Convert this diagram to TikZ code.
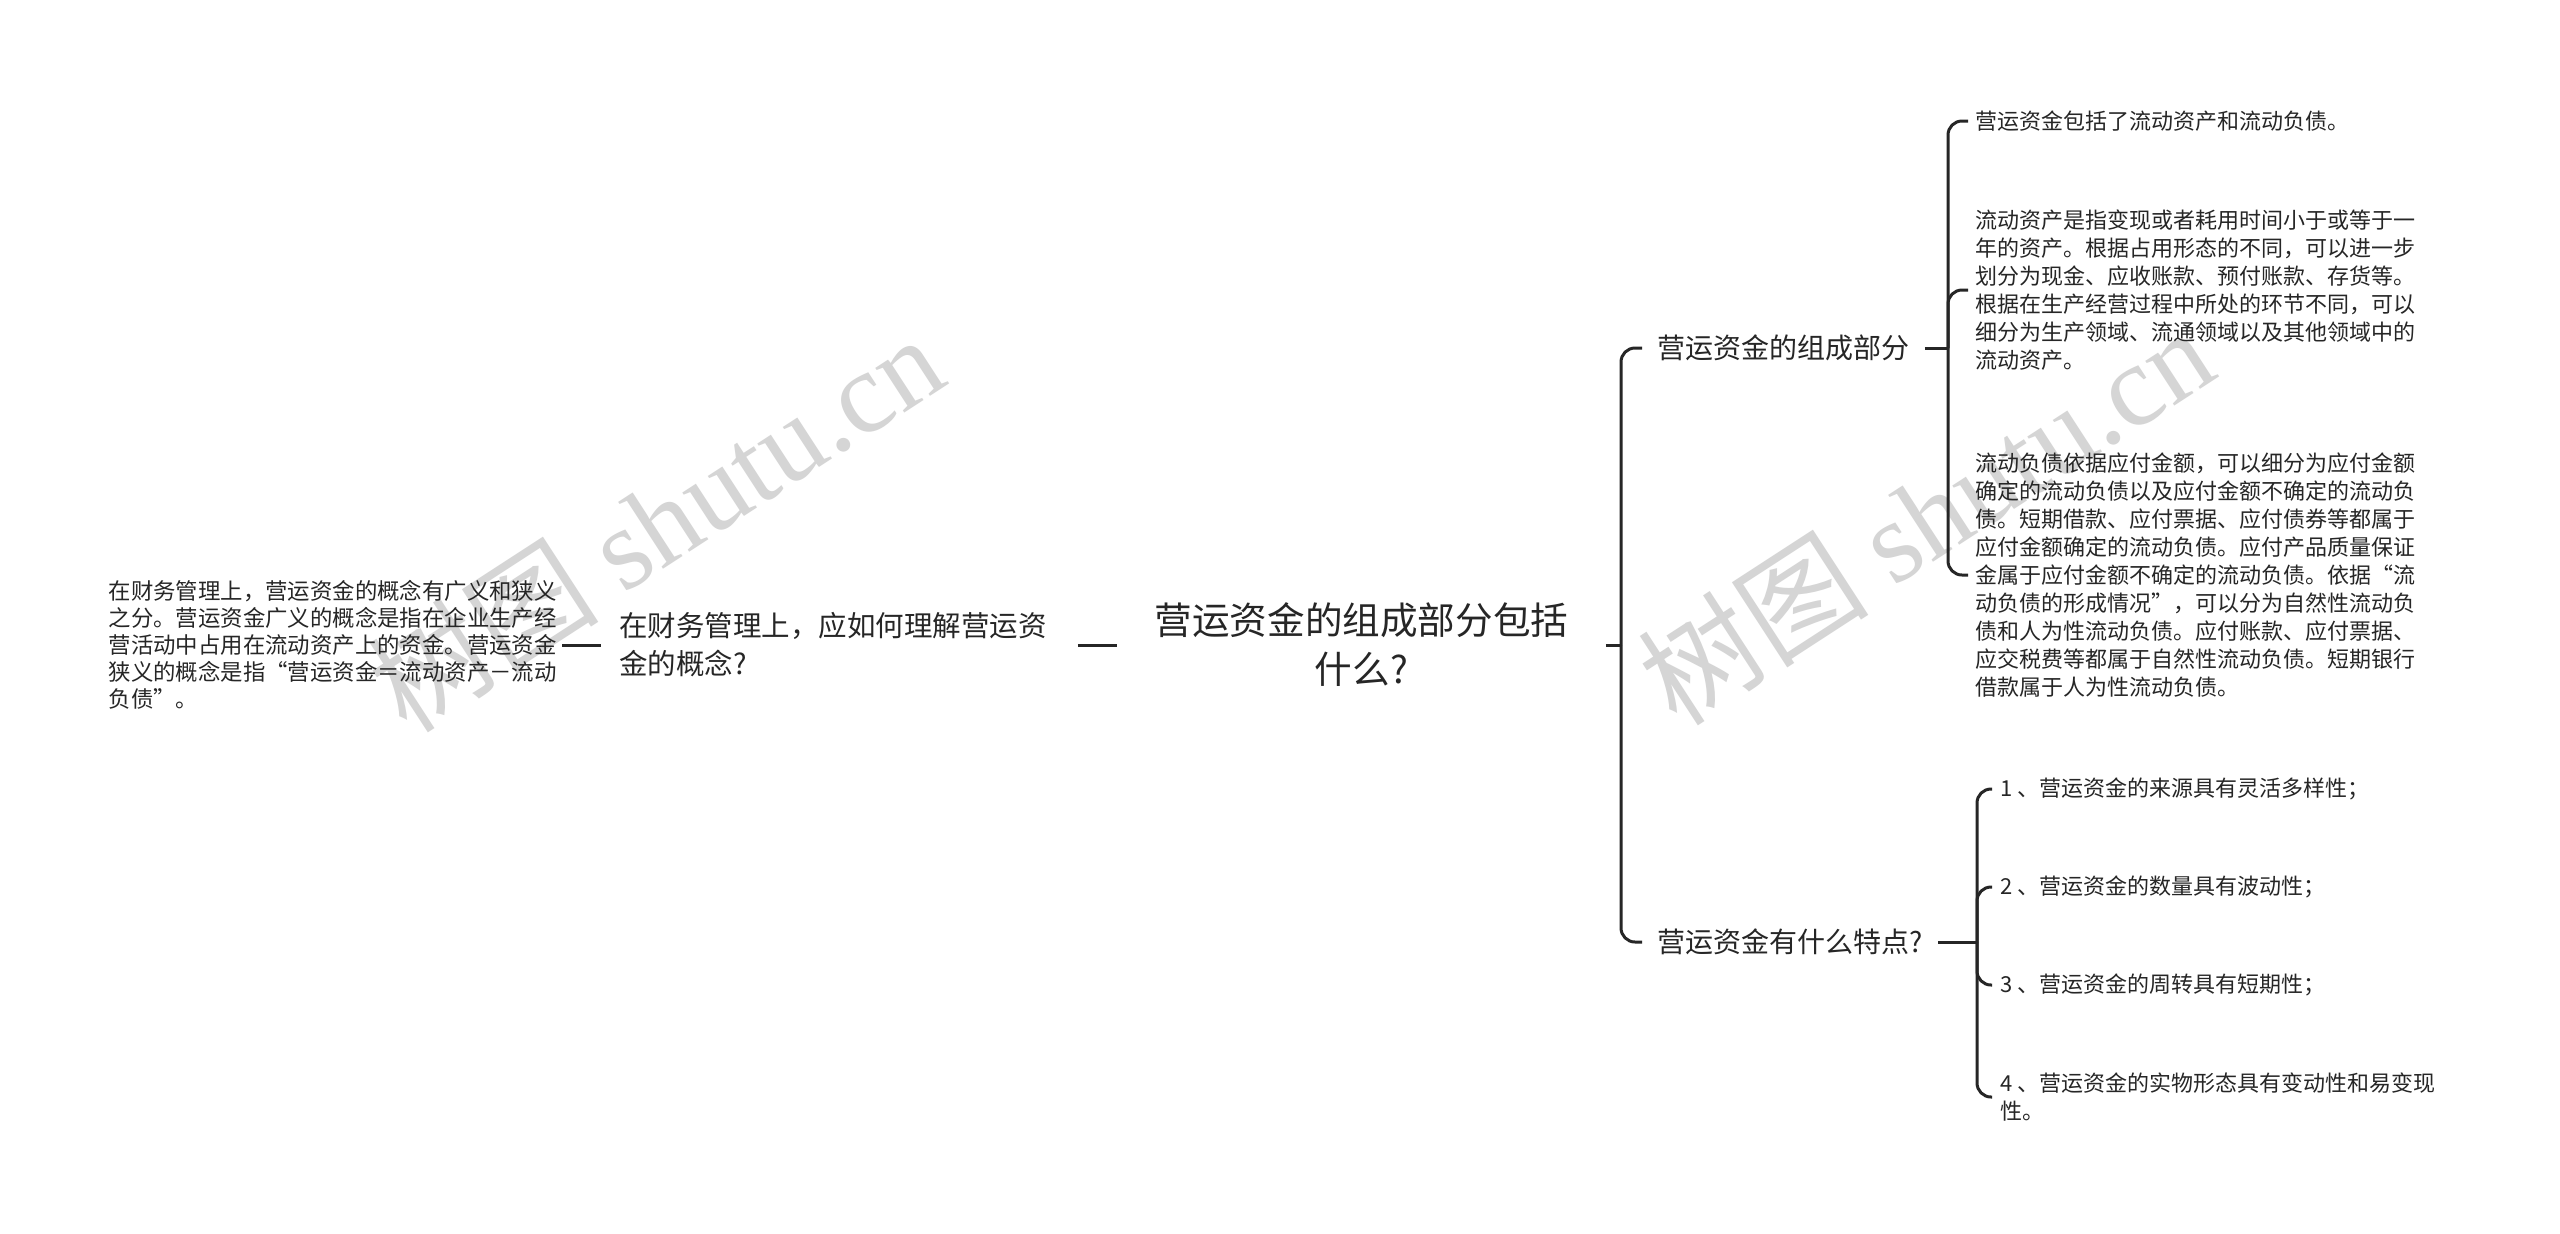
\documentclass[tikz,border=0pt]{standalone}
\usepackage{fontspec}
\setmainfont{Noto Sans CJK SC}
\newfontfamily\wmfont{Liberation Serif}
\usetikzlibrary{positioning}
\definecolor{ink}{HTML}{262626}
\definecolor{wmgray}{HTML}{D5D5D5}
\tikzset{
  link/.style={line width=1.5pt,draw=ink,rounded corners=7pt},
  leaf/.style={anchor=west,inner xsep=3.5pt,inner ysep=0pt,align=left,text=ink,font=\fontsize{11}{14}\selectfont},
  branch/.style={anchor=west,inner xsep=7.5pt,inner ysep=0pt,text=ink,font=\fontsize{14}{18}\selectfont},
  wmark/.style={rotate=33,text=wmgray,font=\fontsize{58}{58}\selectfont}
}
\begin{document}
\begin{tikzpicture}[x=0.5pt,y=-0.5pt,>=latex]
\useasboundingbox (0,0) rectangle (2560,1233);
\fill[white] (0,0) rectangle (2560,1233);
% watermarks
\node[wmark] (wm1) at (655,522) {树图 {\wmfont shutu.cn}};
\node[wmark] (wm2) at (1925,515) {树图 {\wmfont shutu.cn}};
% main chain
\node[leaf,anchor=east,inner xsep=2.5pt,font=\fontsize{11.2}{13.5}\selectfont] (concept) at (562,645)
  {在财务管理上，营运资金的概念有广义和狭义\\之分。营运资金广义的概念是指在企业生产经\\营活动中占用在流动资产上的资金。营运资金\\狭义的概念是指“营运资金＝流动资产－流动\\负债”。};
\node[anchor=west,text width=220pt,inner xsep=9pt,inner ysep=0pt,align=left,text=ink,font=\fontsize{14.25}{19}\selectfont] (q1) at (601,645)
  {在财务管理上，应如何理解营运资\\金的概念?};
\node[anchor=west,text width=209pt,inner xsep=17.5pt,inner ysep=0pt,align=center,text=ink,font=\fontsize{18.8}{24.5}\selectfont] (root) at (1117,645)
  {营运资金的组成部分包括\\什么?};
\draw[link] (concept.east) -- (q1.west);
\draw[link] (q1.east) -- (root.west);
% branches
\node[branch] (parts) at (1642,348) {营运资金的组成部分};
\node[branch] (traits) at (1642,942) {营运资金有什么特点?};
\coordinate (j1) at ([xshift=-10.5pt]parts.west |- root.east);
\draw[link] (root.east) -- (j1);
\draw[link] (j1) |- (parts.west);
\draw[link] (j1) |- (traits.west);
% parts
\node[leaf] (a1) at (1968,121) {营运资金包括了流动资产和流动负债。};
\node[leaf] (a2) at (1968,290)
  {流动资产是指变现或者耗用时间小于或等于一\\年的资产。根据占用形态的不同，可以进一步\\划分为现金、应收账款、预付账款、存货等。\\根据在生产经营过程中所处的环节不同，可以\\细分为生产领域、流通领域以及其他领域中的\\流动资产。};
\node[leaf] (a3) at (1968,575)
  {流动负债依据应付金额，可以细分为应付金额\\确定的流动负债以及应付金额不确定的流动负\\债。短期借款、应付票据、应付债券等都属于\\应付金额确定的流动负债。应付产品质量保证\\金属于应付金额不确定的流动负债。依据“流\\动负债的形成情况”，可以分为自然性流动负\\债和人为性流动负债。应付账款、应付票据、\\应交税费等都属于自然性流动负债。短期银行\\借款属于人为性流动负债。};
\coordinate (j2) at ([xshift=-10pt]a1.west |- parts.east);
\draw[link] (parts.east) -- (j2);
\foreach \c in {a1,a2,a3}
  \draw[link] (j2) |- (\c.west);
% traits
\node[leaf,inner xsep=4pt] (t1) at (1992,789) {1 、营运资金的来源具有灵活多样性；};
\node[leaf,inner xsep=4pt] (t2) at (1992,887) {2 、营运资金的数量具有波动性；};
\node[leaf,inner xsep=4pt] (t3) at (1992,985) {3 、营运资金的周转具有短期性；};
\node[leaf,inner xsep=4pt] (t4) at (1992,1097) {4 、营运资金的实物形态具有变动性和易变现\\性。};
\coordinate (j3) at ([xshift=-7.5pt]t1.west |- traits.east);
\draw[link] (traits.east) -- (j3);
\foreach \c in {t1,t2,t3,t4}
  \draw[link] (j3) |- (\c.west);
\end{tikzpicture}
\end{document}
